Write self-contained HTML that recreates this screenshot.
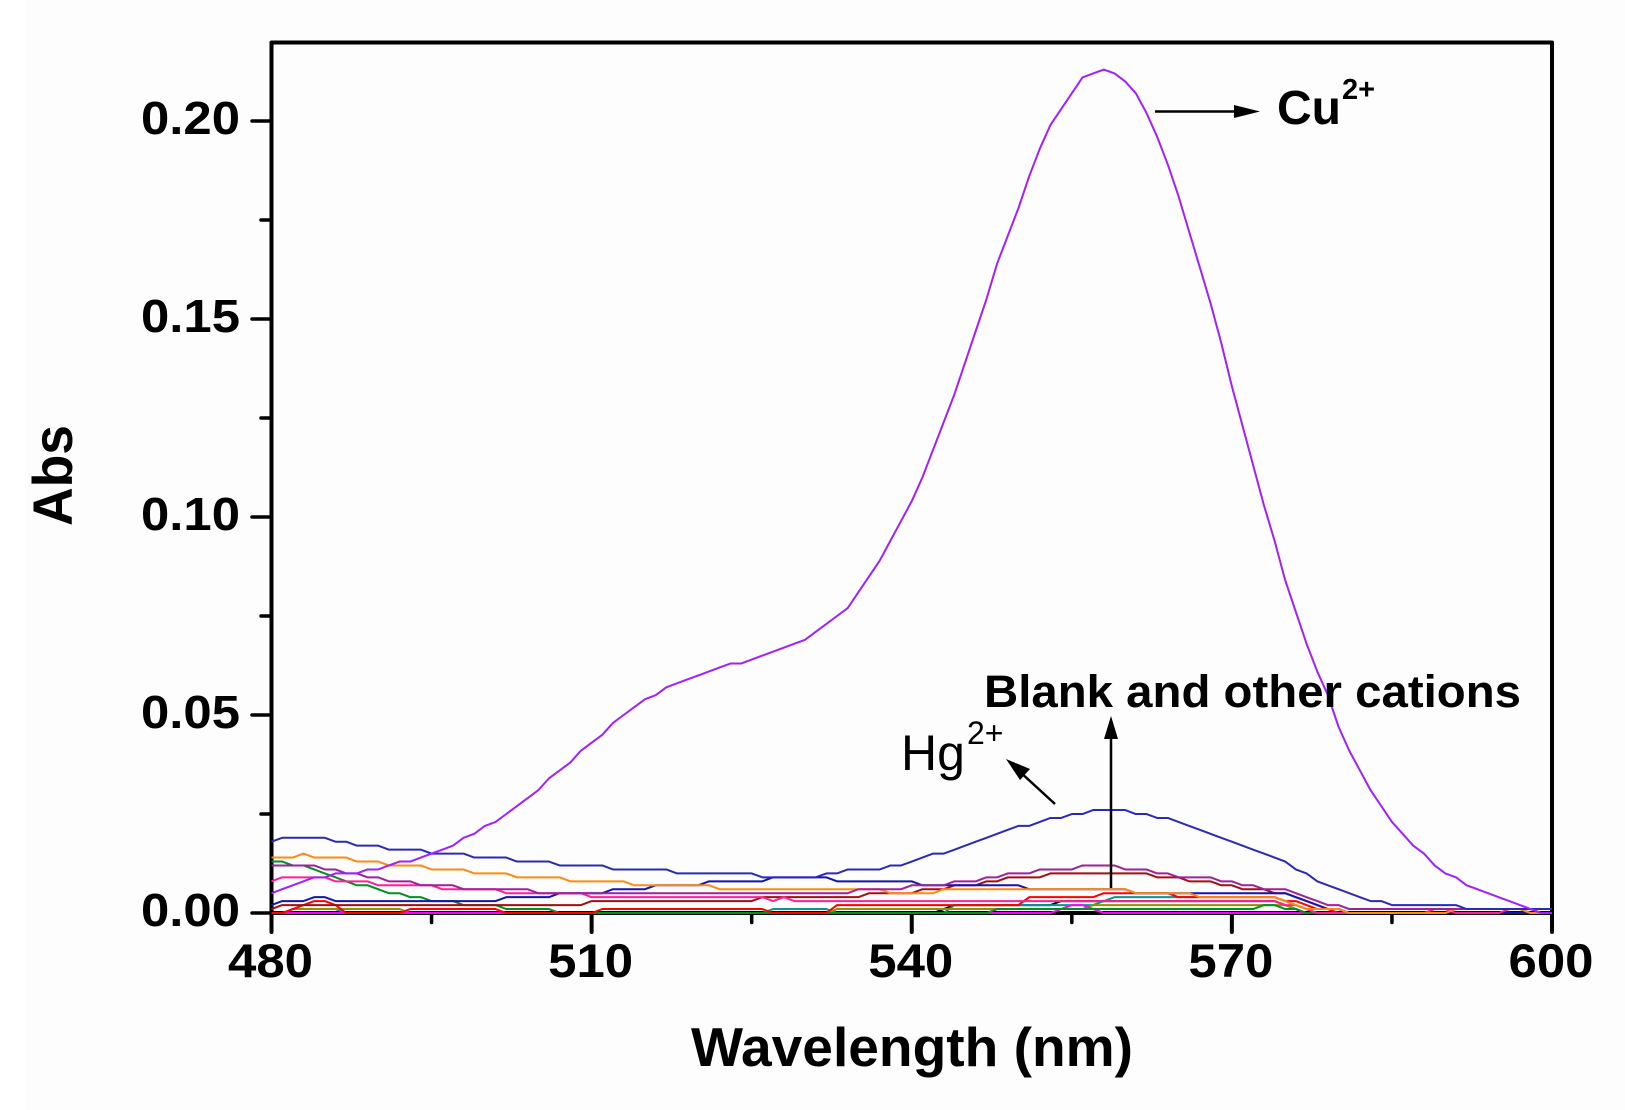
<!DOCTYPE html>
<html lang="en">
<head>
<meta charset="utf-8">
<title>Abs vs Wavelength</title>
<style>
html,body{margin:0;padding:0;background:#fff;width:1625px;height:1110px;overflow:hidden}
svg{display:block}
text{font-family:"Liberation Sans",Arial,sans-serif;fill:#000}
.b{font-weight:bold}
</style>
</head>
<body>
<svg id="chart" xmlns="http://www.w3.org/2000/svg" width="1625" height="1110" viewBox="0 0 1625 1110">
  <rect x="0" y="0" width="1625" height="1110" fill="#ffffff"/>
  <rect x="26" y="0" width="1599" height="1110" fill="#fdfdfd"/>
  <g id="axes"></g>
  <g id="series"></g>
  <text class="b" x="691" y="1066" font-size="55" textLength="442" lengthAdjust="spacingAndGlyphs">Wavelength (nm)</text>
  <text class="b" font-size="56" textLength="101" lengthAdjust="spacingAndGlyphs" transform="translate(72 526) rotate(-90)">Abs</text>
  <text class="b" x="984" y="707" font-size="45" textLength="537" lengthAdjust="spacingAndGlyphs">Blank and other cations</text>
  <text class="b" x="1277" y="124" font-size="48">Cu</text>
  <text class="b" x="1342" y="99" font-size="29">2+</text>
  <text x="901" y="770" font-size="50">Hg</text>
  <text x="967" y="744" font-size="32">2+</text>
  <g>
    <line x1="1161" y1="111.5" x2="1240" y2="111.5" stroke="#000" stroke-width="2.5" transform="translate(-6 0)"/>
    <polygon points="1260,111.5 1234,105 1234,118" fill="#000"/>
  </g>
  <g>
    <line x1="1111" y1="888" x2="1111" y2="735" stroke="#000" stroke-width="2.5"/>
    <polygon points="1111,716 1104,739 1118,739" fill="#000"/>
  </g>
  <g>
    <line x1="1055" y1="804" x2="1019" y2="771" stroke="#000" stroke-width="2.5"/>
    <polygon points="1006,759 1030,769 1020,780" fill="#000"/>
  </g>
</svg>
<script>
const wavelengthStart = 480;
const wavelengthStep = 1;
const xMajorTicks = [480, 510, 540, 570, 600];
const xMinorTicks = [495, 525, 555, 585];
const yMajorTicks = [0, 0.05, 0.10, 0.15, 0.20];
const yMinorTicks = [0.025, 0.075, 0.125, 0.175];
const xTickLabels = ["480", "510", "540", "570", "600"];
const yTickLabels = ["0.00", "0.05", "0.10", "0.15", "0.20"];

// Absorbance values in units of 0.001, one per nm from 480 to 600
const cuValues = [
5,6,7,8,9,9,10,10,10,11,
11,12,13,13,14,15,16,17,19,20,
22,23,25,27,29,31,34,36,38,41,
43,45,48,50,52,54,55,57,58,59,
60,61,62,63,63,64,65,66,67,68,
69,71,73,75,77,81,85,89,94,99,
104,110,117,124,131,139,147,155,164,171,
178,186,193,199,203,207,211,212,213,212,
210,207,202,196,189,181,172,163,154,144,
133,123,113,103,94,84,76,68,61,55,
47,41,36,31,27,23,20,17,15,12,
10,9,7,6,5,4,3,2,1,0,0];
const hgValues = [
18,19,19,19,19,19,18,18,17,17,
17,16,16,16,16,15,15,15,15,14,
14,14,14,13,13,13,13,12,12,12,
12,12,11,11,11,11,11,11,10,10,
10,10,10,10,10,10,9,9,9,9,
9,9,10,10,11,11,11,11,12,12,
13,14,15,15,16,17,18,19,20,21,
22,22,23,24,24,25,25,26,26,26,
26,25,25,24,24,23,22,21,20,19,
18,17,16,15,14,13,11,10,8,7,
6,5,4,3,3,2,2,2,2,2,
2,2,1,1,1,1,1,1,1,1,1];
const orangeValues = [
14,14,14,15,14,14,14,14,13,13,
13,12,12,12,12,11,11,11,11,10,
10,10,10,9,9,9,9,9,8,8,
8,8,8,8,7,7,7,7,7,7,
7,7,6,6,6,6,6,6,6,6,
6,6,6,6,6,6,6,6,5,5,
5,5,5,6,6,6,6,6,6,6,
6,6,6,6,6,6,6,6,6,6,
6,5,5,5,5,5,5,4,4,4,
4,4,4,4,4,3,2,1,1,1,
1,0,0,0,0,0,0,0,0,0,
0,1,1,1,1,1,1,1,0,0,0];
const darkMagentaValues = [
12,12,12,12,12,11,11,10,10,9,
9,8,8,8,7,7,7,7,6,6,
6,6,6,6,6,5,5,5,5,5,
5,5,5,5,5,5,5,5,5,5,
5,5,5,5,5,5,5,5,5,5,
5,5,5,5,5,6,6,6,6,6,
7,7,7,7,8,8,8,9,9,10,
10,10,11,11,11,11,12,12,12,12,
11,11,11,10,10,9,9,9,9,8,
8,7,7,6,6,6,5,4,3,2,
2,1,1,1,1,1,1,1,1,1,
1,1,1,1,1,1,1,1,1,0,0];
const darkRedValues = [
1,2,2,2,2,2,2,2,2,2,
2,2,2,2,2,2,2,2,2,2,
2,2,2,2,2,2,2,2,2,2,
3,3,3,3,3,3,3,3,3,3,
3,3,3,3,3,3,4,4,4,4,
4,4,4,4,4,4,5,5,5,5,
5,6,6,6,7,7,7,8,8,9,
9,9,9,10,10,10,10,10,10,10,
10,10,10,9,9,9,8,8,8,7,
7,6,6,6,5,5,4,3,2,1,
1,0,0,0,0,0,0,0,0,0,
0,0,0,0,0,0,0,0,0,0,0];
const pinkValues = [
8,9,9,9,9,9,8,8,8,8,
7,7,7,7,7,7,6,6,6,6,
6,6,5,5,5,5,5,5,5,5,
4,4,4,4,4,4,4,4,4,4,
4,4,4,4,4,4,4,3,4,3,
3,3,3,3,3,3,3,3,3,3,
3,3,3,3,3,3,3,3,3,3,
3,3,3,3,3,3,3,3,3,3,
3,3,3,3,3,3,3,3,3,3,
3,3,3,3,3,2,2,1,0,0,
0,0,0,0,0,0,0,0,0,1,
1,0,0,0,0,0,1,1,0,0,0];
const redValues = [
0,0,1,2,3,3,2,0,0,0,
0,0,0,1,1,1,1,1,1,1,
1,1,0,0,0,0,0,0,0,0,
0,1,1,1,1,1,1,1,1,1,
1,1,1,1,1,1,1,0,0,0,
0,0,0,2,2,2,2,2,2,2,
2,2,2,2,2,2,2,2,2,2,
2,4,4,4,4,4,4,4,5,5,
5,5,5,5,5,4,4,4,4,4,
4,4,4,4,4,3,3,2,1,1,
0,0,0,0,0,0,0,0,0,0,
0,0,0,0,0,0,0,0,0,0,0];
const navyValues = [
2,3,3,3,4,4,3,3,3,3,
3,3,3,3,3,3,3,3,3,3,
3,3,4,4,4,4,4,5,5,5,
5,5,6,6,6,6,7,7,7,7,
7,8,8,8,8,8,8,9,9,9,
9,9,9,8,8,8,8,8,8,8,
8,7,7,7,7,7,7,7,7,7,
7,6,6,6,6,6,6,6,6,6,
6,5,5,5,5,5,5,5,5,5,
5,5,5,5,5,5,4,3,2,1,
1,0,0,0,0,0,0,0,0,0,
0,0,0,0,0,0,0,0,0,0,0];
const greenValues = [
13,13,12,12,11,10,9,8,7,7,
6,5,5,4,4,3,3,3,2,2,
2,2,1,1,1,1,1,0,0,0,
0,0,0,0,0,0,0,0,0,0,
0,0,0,0,0,0,0,0,0,0,
0,0,0,0,0,0,0,0,0,0,
0,0,0,0,0,0,0,0,1,1,
1,1,1,1,1,1,1,1,1,1,
1,1,1,1,1,1,1,1,1,1,
1,1,1,2,2,1,1,0,0,0,
0,0,0,0,0,0,0,0,0,0,
0,0,0,0,0,0,0,0,0,0,0];
const tealValues = [
0,0,1,1,1,1,1,0,0,0,
0,0,0,0,0,0,0,0,0,0,
0,0,0,0,0,0,0,0,0,0,
0,0,0,0,0,0,0,0,0,0,
0,0,0,0,0,0,0,1,1,1,
1,1,1,0,0,0,0,0,0,0,
0,0,0,0,2,2,2,2,2,2,
2,2,2,2,2,2,2,2,3,4,
4,4,4,4,4,4,4,4,4,4,
4,4,4,4,4,3,2,1,0,0,
0,0,0,0,0,0,0,0,0,0,
0,0,0,0,0,0,0,0,0,0,0];
const oliveValues = [
0,0,1,1,1,1,1,1,1,1,
1,1,1,0,0,0,0,0,0,0,
0,0,0,0,0,0,0,0,0,0,
0,0,0,0,0,0,0,0,0,0,
0,0,0,0,0,0,0,0,0,0,
0,0,0,1,1,1,1,1,1,1,
1,1,1,1,1,1,1,1,1,1,
1,1,1,1,1,1,1,2,2,2,
2,2,2,2,2,2,2,2,2,2,
2,2,2,2,2,2,1,0,0,0,
0,0,0,0,0,0,0,0,0,0,
0,0,0,0,0,0,0,0,0,0,0];
const magentaValues = [
0,0,0,0,0,0,0,0,0,0,
0,0,0,0,0,0,0,0,0,0,
0,0,0,0,0,0,0,0,0,0,
0,0,0,0,0,0,0,0,0,0,
0,0,0,0,0,0,0,0,0,0,
0,0,0,0,0,0,0,0,0,0,
0,0,0,0,0,0,0,0,0,0,
0,0,0,0,1,2,2,1,0,0,
0,0,0,0,0,0,0,0,0,0,
0,0,0,0,0,0,0,0,0,0,
0,0,0,0,0,0,0,0,0,0,
0,0,0,0,0,0,0,0,0,0,0];
const blackValues = [
0,0,0,0,0,0,0,0,0,0,
0,0,0,0,0,0,0,0,0,0,
0,0,0,0,0,0,0,0,0,0,
0,0,0,0,0,0,0,0,0,0,
0,0,0,0,0,0,0,0,0,0,
0,0,0,0,0,0,0,0,0,0,
0,0,0,1,2,2,2,2,2,2,
2,2,2,2,3,3,3,3,3,3,
3,3,3,3,3,3,3,3,3,3,
3,3,3,3,3,2,1,0,0,0,
0,0,0,0,0,0,0,0,0,0,
0,0,0,0,0,0,0,0,0,0,0];

const seriesNames = ["black","teal","olive","magenta","green","red","dark-red","navy","pink","orange","dark-magenta","hg","cu"];
const seriesValues = [blackValues,tealValues,oliveValues,magentaValues,greenValues,redValues,darkRedValues,navyValues,pinkValues,orangeValues,darkMagentaValues,hgValues,cuValues];
const seriesColors = ["#000000","#009898","#909000","#ff00ff","#009020","#ff0000","#a01010","#1414b0","#ff1f98","#ff8a10","#a0209a","#2a2ab8","#a020ff"];

const NS = "http://www.w3.org/2000/svg";
function xScale(nm){ return 271.5 + (nm - 480) * (1552 - 271.5) / 120; }
function yScale(v){ return 913 - v * 3960; }
function make(tag, attrs, parent){
  const el = document.createElementNS(NS, tag);
  for (const k in attrs) el.setAttribute(k, attrs[k]);
  parent.appendChild(el);
  return el;
}
const axes = document.getElementById("axes");
const seriesGroup = document.getElementById("series");

const frame = make("path", {d:"M271.5 913V42.5H1552V913Z", fill:"none", stroke:"#000", "stroke-width":"4", "stroke-linejoin":"round"}, axes);



xMajorTicks.forEach(function(t, i){
  const tick = make("line", {x1:xScale(t), x2:xScale(t), y1:913, y2:932, stroke:"#000", "stroke-width":"4", "stroke-linecap":"round"}, axes);
  
  
  const label = make("text", {x:xScale(t) - 43.5, y:977, "font-size":"47", "font-weight":"bold", textLength:"85", lengthAdjust:"spacingAndGlyphs"}, axes);
  
  
  label.textContent = xTickLabels[i];
});
xMinorTicks.forEach(function(t){
  const tick = make("line", {x1:xScale(t), x2:xScale(t), y1:913, y2:922.5, stroke:"#000", "stroke-width":"3.5", "stroke-linecap":"round"}, axes);
  
  
});
yMajorTicks.forEach(function(t, i){
  const tick = make("line", {x1:252, x2:271.5, y1:yScale(t), y2:yScale(t), stroke:"#000", "stroke-width":"3.5", "stroke-linecap":"round"}, axes);
  
  
  const label = make("text", {x:141, y:yScale(t) + 13, "font-size":"46", "font-weight":"bold", textLength:"99", lengthAdjust:"spacingAndGlyphs"}, axes);
  
  
  label.textContent = yTickLabels[i];
});
yMinorTicks.forEach(function(t){
  const tick = make("line", {x1:261, x2:271.5, y1:yScale(t), y2:yScale(t), stroke:"#000", "stroke-width":"3.5", "stroke-linecap":"round"}, axes);
  
  
});

seriesValues.forEach(function(vals, s){
  const pts = vals.map(function(v, i){
    return xScale(wavelengthStart + i * wavelengthStep).toFixed(2) + "," + yScale(v / 1000).toFixed(2);
  }).join(" ");
  const line = make("polyline", {points:pts, fill:"none", stroke:seriesColors[s], "stroke-width":"2", "stroke-linejoin":"round"}, seriesGroup);
  
  
});
</script>
</body>
</html>
